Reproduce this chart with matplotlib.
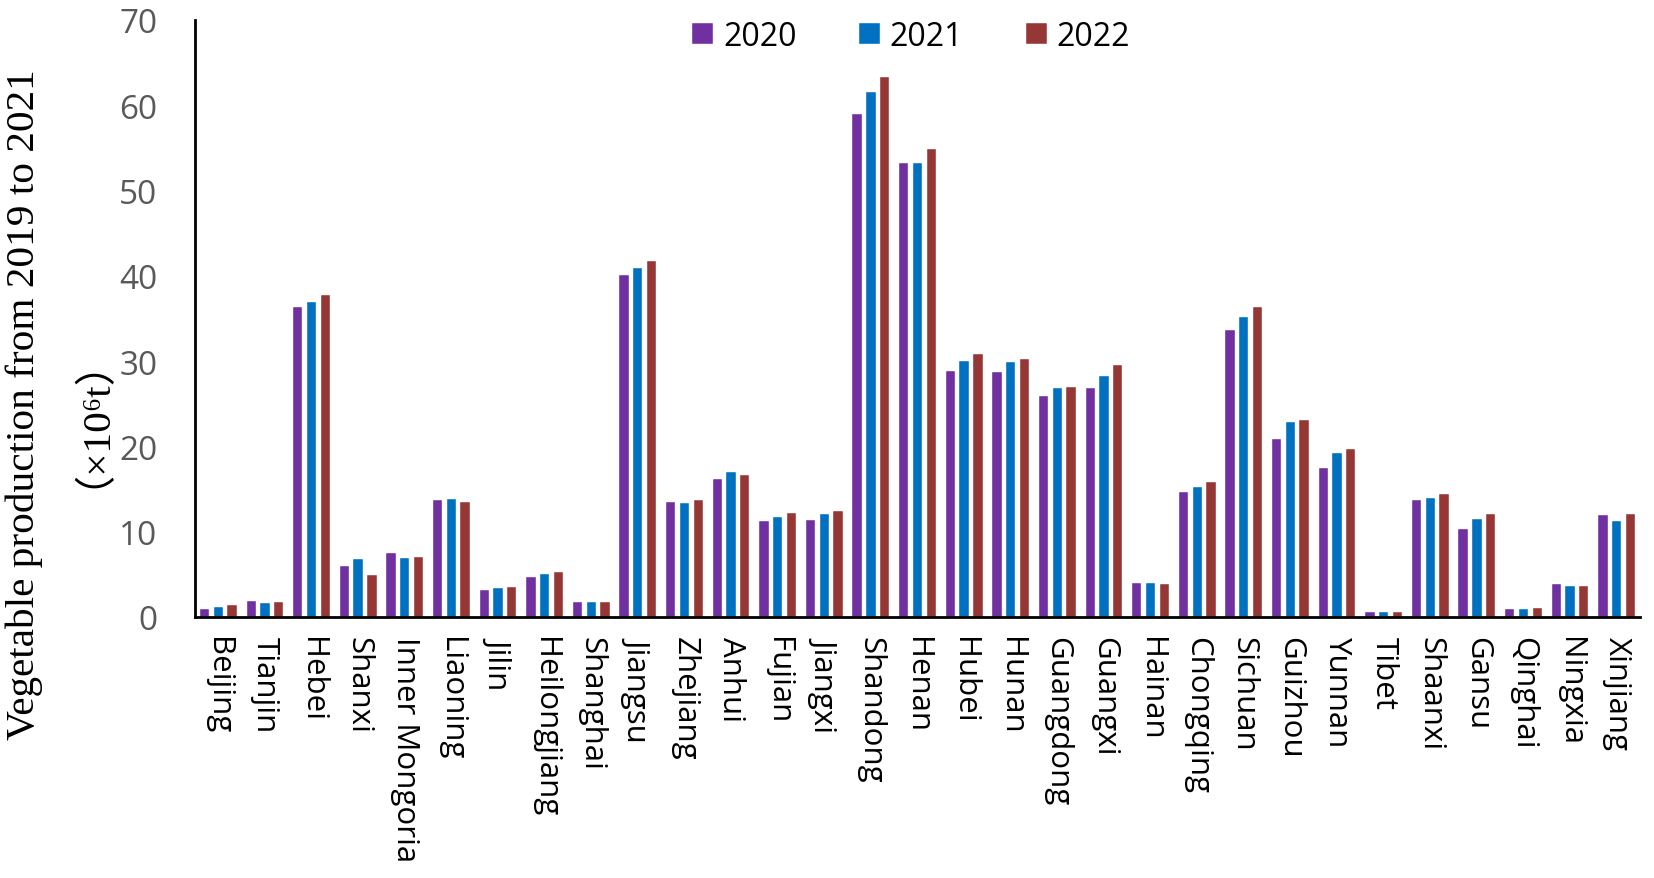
import matplotlib
matplotlib.use('Agg')
import matplotlib.pyplot as plt
import numpy as np

provinces = ["Beijing", "Tianjin", "Hebei", "Shanxi", "Inner Mongoria", "Liaoning", "Jilin",
             "Heilongjiang", "Shanghai", "Jiangsu", "Zhejiang", "Anhui", "Fujian", "Jiangxi",
             "Shandong", "Henan", "Hubei", "Hunan", "Guangdong", "Guangxi", "Hainan", "Chongqing",
             "Sichuan", "Guizhou", "Yunnan", "Tibet", "Shaanxi", "Gansu", "Qinghai", "Ningxia",
             "Xinjiang"]
v2020 = [0.93, 1.83, 36.35, 5.95, 7.5, 13.7, 3.2, 4.68, 1.75, 40.1, 13.5, 16.2, 11.3, 11.4,
         59.0, 53.2, 28.8, 28.7, 25.9, 26.8, 3.95, 14.6, 33.6, 20.9, 17.5, 0.54, 13.67, 10.3,
         0.97, 3.9, 11.95]
v2021 = [1.13, 1.65, 36.9, 6.8, 6.9, 13.85, 3.38, 5.03, 1.71, 40.96, 13.4, 17.05, 11.73, 12.04,
         61.6, 53.2, 30.05, 29.86, 26.9, 28.3, 4.03, 15.2, 35.2, 22.9, 19.2, 0.58, 14.0, 11.5,
         0.97, 3.68, 11.28]
v2022 = [1.44, 1.76, 37.8, 4.9, 7.07, 13.5, 3.57, 5.27, 1.78, 41.8, 13.76, 16.7, 12.18, 12.45,
         63.3, 54.85, 30.85, 30.27, 27.0, 29.6, 3.85, 15.8, 36.3, 23.1, 19.67, 0.54, 14.4, 12.1,
         1.03, 3.68, 12.04]
years = ["2020", "2021", "2022"]
yticks = [0, 10, 20, 30, 40, 50, 60, 70]
ylabel_main = "Vegetable production from 2019 to 2021"
ylabel_unit = "（×10⁶t）"

colors = ["#7030A0", "#0070C0", "#953735"]

W, H = 1654, 879
fig = plt.figure(figsize=(W / 100, H / 100), dpi=100)
ax = fig.add_axes([195 / W, 1 - 618 / H, (1640 - 195) / W, (618 - 21) / H])

x = np.arange(len(provinces))
bw = 0.2
for i, (vals, c, lab) in enumerate(zip([v2020, v2021, v2022], colors, years)):
    ax.bar(x + (i - 1) * 0.295, vals, width=bw, color=c, label=lab, edgecolor='white', linewidth=0.3)

ax.set_xlim(-0.5, len(provinces) - 0.5)
ax.set_ylim(0, 70)
ax.set_yticks(yticks)
ax.set_yticklabels([str(t) for t in yticks], fontsize=24, color="#595959", family="Open Sans")
ax.set_xticks(x)
ax.set_xticklabels(provinces, rotation=270, fontsize=22.5, family="Open Sans", color="black")
ax.tick_params(axis='y', length=0, pad=27)
ax.tick_params(axis='x', length=0, pad=14)
for s in ["top", "right"]:
    ax.spines[s].set_visible(False)
ax.spines["left"].set_linewidth(2)
ax.spines["bottom"].set_linewidth(2)

leg = ax.legend(ncol=3, loc='center', bbox_to_anchor=(911 / W, 1 - 37 / H),
                bbox_transform=fig.transFigure, frameon=False,
                prop={'family': 'Open Sans', 'size': 23},
                handlelength=0.66, handleheight=0.62, handletextpad=0.31,
                columnspacing=1.95, borderpad=0)

fig.text(24 / W, 1 - 405 / H, ylabel_main, rotation=90,
         ha='center', va='center', fontsize=29.7, family=["Liberation Serif", "DejaVu Serif"])
fig.text(72 / W, 1 - 402 / H, ylabel_unit, rotation=90, ha='center', va='center',
         fontsize=29.7, family=["Liberation Serif", "Noto Sans CJK SC", "DejaVu Serif"])

fig.savefig("out.png", dpi=100)
